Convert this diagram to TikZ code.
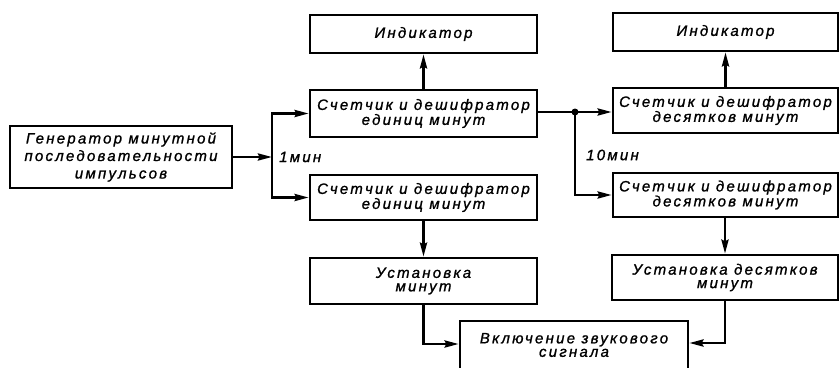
\documentclass[tikz,border=0pt]{standalone}
\usepackage{fontspec}
\newfontfamily\gostfont[LetterSpace=15,FakeBold=1.2]{Liberation Sans}
\usetikzlibrary{arrows.meta}
\begin{document}
\begin{tikzpicture}[x=1pt,y=-1pt,
  box/.style={draw, line width=2.6pt, inner sep=0pt, align=center,
    font=\gostfont\itshape\fontsize{15}{13.5}\selectfont},
  conn/.style={line width=2.6pt},
  arr/.style={conn, -{Stealth[length=14pt,width=7pt,inset=1.5pt]}},
  lbl/.style={font=\gostfont\itshape\fontsize{15}{13.5}\selectfont, inner sep=0pt}]
\clip (0,0) rectangle (840,367);
\fill[white] (0,0) rectangle (840,367);
% boxes
\node[box, minimum width=222pt, minimum height=62pt, font=\gostfont\itshape\fontsize{15}{17.5}\selectfont] (gen) at (121,157)
  {Генератор минутной\\последовательности\\импульсов};
\node[box, minimum width=227pt, minimum height=38pt] (ind1) at (423.5,34) {Индикатор};
\node[box, minimum width=227pt, minimum height=47pt] (cnt1) at (423.5,113.5) {Счетчик и дешифратор\\единиц минут};
\node[box, minimum width=227pt, minimum height=45pt] (cnt2) at (423.5,197.5) {Счетчик и дешифратор\\единиц минут};
\node[box, minimum width=227pt, minimum height=46pt] (set1) at (423.5,281) {Установка\\минут};
\node[box, minimum width=225pt, minimum height=38pt] (ind2) at (725.5,32) {Индикатор};
\node[box, minimum width=225pt, minimum height=45pt] (cnt3) at (725.5,110.5) {Счетчик и дешифратор\\десятков минут};
\node[box, minimum width=225pt, minimum height=44pt] (cnt4) at (725.5,195) {Счетчик и дешифратор\\десятков минут};
\node[box, minimum width=226pt, minimum height=45pt] (set2) at (725,277.5) {Установка десятков\\минут};
\node[box, minimum width=228pt, minimum height=48pt] (sig) at (574,345)
  {Включение звукового\\сигнала};
% labels
\node[lbl, anchor=west] (l1) at (279,157) {1мин};
\node[lbl, anchor=west] (l10) at (586,155) {10мин};
% connectors
\coordinate (j1) at (272,157);
\draw[arr] (gen.east) -- (j1);
\draw[arr] (j1) |- (cnt1.west);
\draw[arr] (j1) |- (cnt2.west);
\draw[arr] (cnt1.north) -- (ind1.south);
\draw[arr] (cnt3.north) -- (ind2.south);
\coordinate (d) at (575,112);
\draw[arr] (cnt1.east |- d) -- (cnt3.west |- d);
\fill (d) circle (3.5pt);
\draw[arr] (d) |- (cnt4.west);
\draw[arr] (cnt2.south) -- (set1.north);
\draw[arr] (cnt4.south -| set2.north) -- (set2.north);
\coordinate (b1) at (423.5,344);
\coordinate (b2) at (725,343);
\draw[arr] (set1.south) |- (sig.west |- b1);
\draw[arr] (set2.south) |- (sig.east |- b2);
\end{tikzpicture}
\end{document}
